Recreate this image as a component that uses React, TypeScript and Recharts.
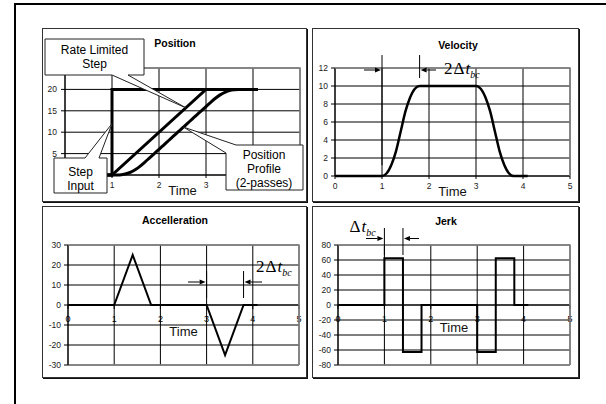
import React from 'react';
import { LineChart, Line, XAxis, YAxis, CartesianGrid, ReferenceLine } from 'recharts';

const FONT = '"Liberation Sans", Arial, Helvetica, sans-serif';
const SERIF = '"Liberation Serif", "Times New Roman", serif';

// shared time axis
const timeTicks = [0, 1, 2, 3, 4, 5];

// sample times for the smooth profiles
const profileTimes = [
  0, 1, 1.1, 1.2, 1.3, 1.4, 1.5, 1.6, 1.7, 1.8, 1.9, 2, 2.1, 2.2, 2.3, 2.4,
  2.5, 2.6, 2.7, 2.8, 2.9, 3, 3.1, 3.2, 3.3, 3.4, 3.5, 3.6, 3.7, 3.8, 4.1,
];

// position
const positionTicks = [0, 5, 10, 15, 20, 25];
const positionHiddenX = [0, 4, 5]; // sit under the callout boxes
const positionHiddenY = [0, 25];
const stepTimes = [0, 1, 1, 4.1];
const stepValues = [0, 0, 20, 20];
const rateTimes = [0, 1, 3, 4.1];
const rateValues = [0, 0, 20, 20];
const profileValues = [
  0, 0, 0.01, 0.08, 0.28, 0.67, 1.28, 2.08, 3.01, 4, 5, 6, 7, 8, 9, 10,
  11, 12, 13, 14, 15, 16, 16.99, 17.92, 18.72, 19.33, 19.72, 19.92, 19.99, 20, 20,
];

// velocity
const velocityTicks = [0, 2, 4, 6, 8, 10, 12];
const velocityValues = [
  0, 0, 0.3, 1.25, 2.8, 5, 7.2, 8.75, 9.7, 10, 10, 10, 10, 10, 10, 10,
  10, 10, 10, 10, 10, 10, 9.7, 8.75, 7.2, 5, 2.8, 1.25, 0.3, 0, 0,
];

// acceleration
const accelTicks = [-30, -20, -10, 0, 10, 20, 30];
const accelTimes = [0, 1, 1.4, 1.8, 3, 3.4, 3.8, 4.1];
const accelValues = [0, 0, 25, 0, 0, -25, 0, 0];

// jerk, each value held until the next time
const jerkTicks = [-80, -60, -40, -20, 0, 20, 40, 60, 80];
const jerkTimes = [0, 1, 1.4, 1.8, 3, 3.4, 3.8, 4.1];
const jerkValues = [0, 62.5, -62.5, 0, -62.5, 62.5, 0, 0];

const zip = (ts: number[], vs: number[]) => ts.map((t, i) => ({ t, v: vs[i] }));

type Frame = {
  left: number;
  top: number;
  width: number;
  height: number;
  plotLeft: number;
  plotTop: number;
  plotWidth: number;
  plotHeight: number;
  xAxisHeight: number;
  yDomain: [number, number];
};

const positionFrame: Frame = { left: 42, top: 28, width: 265, height: 174, plotLeft: 23, plotTop: 40, plotWidth: 235, plotHeight: 107, xAxisHeight: 22, yDomain: [0, 25] };
const velocityFrame: Frame = { left: 312, top: 28, width: 267, height: 174, plotLeft: 23, plotTop: 40, plotWidth: 235, plotHeight: 108, xAxisHeight: 22, yDomain: [0, 12] };
const accelFrame: Frame = { left: 42, top: 206, width: 265, height: 172, plotLeft: 26, plotTop: 39, plotWidth: 231, plotHeight: 120, xAxisHeight: 12, yDomain: [-30, 30] };
const jerkFrame: Frame = { left: 312, top: 206, width: 267, height: 172, plotLeft: 26, plotTop: 39, plotWidth: 232, plotHeight: 120, xAxisHeight: 12, yDomain: [-80, 80] };

const marginOf = (f: Frame) => ({
  top: f.plotTop,
  left: 0,
  right: f.width - f.plotLeft - f.plotWidth,
  bottom: f.height - f.plotTop - f.plotHeight - f.xAxisHeight,
});

// page coordinates of a data point, for the annotations drawn on top
const xOf = (f: Frame, t: number) => f.left + f.plotLeft + (t / 5) * f.plotWidth;
const yOf = (f: Frame, v: number) =>
  f.top + f.plotTop + ((f.yDomain[1] - v) / (f.yDomain[1] - f.yDomain[0])) * f.plotHeight;

const tickStyle = { fontSize: 8.5, fill: '#222', fontFamily: FONT };

// x labels for the plots whose time axis crosses at zero
function zeroTick(f: Frame) {
  return (props: any) => {
    const { x, y, payload } = props;
    const zeroY = y - (f.plotHeight * (0 - f.yDomain[0])) / (f.yDomain[1] - f.yDomain[0]);
    return (
      <g>
        <line x1={x} y1={zeroY} x2={x} y2={zeroY + 4} stroke="#000" />
        <text x={x} y={zeroY + 16.5} textAnchor="middle" fontSize={9} fill="#000" fontFamily={FONT}>
          {payload.value}
        </text>
      </g>
    );
  };
}

function Shell({ frame, children }: { frame: Frame; children: React.ReactNode }) {
  return (
    <div style={{ position: 'absolute', left: frame.left, top: frame.top, width: frame.width, height: frame.height }}>
      {children}
      <div
        style={{
          position: 'absolute',
          inset: 0,
          border: '1px solid #333',
          boxShadow: '1px 1px 0 #111',
          pointerEvents: 'none',
        }}
      />
    </div>
  );
}

function PositionChart() {
  const f = positionFrame;
  return (
    <Shell frame={f}>
      <LineChart width={f.width} height={f.height} margin={marginOf(f)}>
        <CartesianGrid stroke="#000" />
        <XAxis
          dataKey="t"
          type="number"
          domain={[0, 5]}
          ticks={timeTicks}
          interval={0}
          height={f.xAxisHeight}
          tick={tickStyle}
          tickFormatter={(t: number) => (positionHiddenX.includes(t) ? '' : String(t))}
          tickSize={3}
          tickMargin={4}
          stroke="#000"
          label={{ value: 'Time', position: 'insideBottom', offset: 2, fontSize: 13, fill: '#111', fontFamily: FONT }}
        />
        <YAxis
          type="number"
          domain={f.yDomain}
          ticks={positionTicks}
          interval={0}
          width={f.plotLeft}
          tick={tickStyle}
          tickFormatter={(v: number) => (positionHiddenY.includes(v) ? '' : String(v))}
          tickSize={4}
          tickMargin={4}
          stroke="#000"
        />
        <Line data={zip(stepTimes, stepValues)} dataKey="v" type="linear" stroke="#000" strokeWidth={3} dot={false} isAnimationActive={false} />
        <Line data={zip(rateTimes, rateValues)} dataKey="v" type="linear" stroke="#000" strokeWidth={3} dot={false} isAnimationActive={false} />
        <Line data={zip(profileTimes, profileValues)} dataKey="v" type="monotone" stroke="#000" strokeWidth={3} dot={false} isAnimationActive={false} />
      </LineChart>
    </Shell>
  );
}

function VelocityChart() {
  const f = velocityFrame;
  return (
    <Shell frame={f}>
      <LineChart width={f.width} height={f.height} margin={marginOf(f)}>
        <CartesianGrid stroke="#000" />
        <XAxis
          dataKey="t"
          type="number"
          domain={[0, 5]}
          ticks={timeTicks}
          interval={0}
          height={f.xAxisHeight}
          tick={tickStyle}
          tickSize={3}
          tickMargin={4}
          stroke="#000"
          label={{ value: 'Time', position: 'insideBottom', offset: 2, fontSize: 13, fill: '#111', fontFamily: FONT }}
        />
        <YAxis
          type="number"
          domain={f.yDomain}
          ticks={velocityTicks}
          interval={0}
          width={f.plotLeft}
          tick={tickStyle}
          tickSize={4}
          tickMargin={3}
          stroke="#000"
        />
        <Line data={zip(profileTimes, velocityValues)} dataKey="v" type="monotone" stroke="#000" strokeWidth={2.5} dot={false} isAnimationActive={false} />
      </LineChart>
    </Shell>
  );
}

function AccelChart() {
  const f = accelFrame;
  return (
    <Shell frame={f}>
      <LineChart width={f.width} height={f.height} margin={marginOf(f)}>
        <CartesianGrid stroke="#000" />
        <XAxis
          dataKey="t"
          type="number"
          domain={[0, 5]}
          ticks={timeTicks}
          interval={0}
          height={f.xAxisHeight}
          tick={zeroTick(f)}
          tickLine={false}
          tickSize={0}
          tickMargin={0}
          axisLine={{ stroke: '#888', strokeWidth: 1.5 }}
        />
        <YAxis
          type="number"
          domain={f.yDomain}
          ticks={accelTicks}
          interval={0}
          width={f.plotLeft}
          tick={tickStyle}
          tickSize={4}
          tickMargin={3}
          stroke="#000"
        />
        <ReferenceLine
          y={0}
          stroke="#000"
          label={{ value: 'Time', position: 'bottom', offset: 22, fontSize: 13, fill: '#111', fontFamily: FONT }}
        />
        <Line data={zip(accelTimes, accelValues)} dataKey="v" type="linear" stroke="#000" strokeWidth={2} dot={false} isAnimationActive={false} />
      </LineChart>
    </Shell>
  );
}

function JerkChart() {
  const f = jerkFrame;
  return (
    <Shell frame={f}>
      <LineChart width={f.width} height={f.height} margin={marginOf(f)}>
        <CartesianGrid stroke="#000" />
        <XAxis
          dataKey="t"
          type="number"
          domain={[0, 5]}
          ticks={timeTicks}
          interval={0}
          height={f.xAxisHeight}
          tick={zeroTick(f)}
          tickLine={false}
          tickSize={0}
          tickMargin={0}
          axisLine={{ stroke: '#888', strokeWidth: 1.5 }}
        />
        <YAxis
          type="number"
          domain={f.yDomain}
          ticks={jerkTicks}
          interval={0}
          width={f.plotLeft}
          tick={tickStyle}
          tickSize={4}
          tickMargin={3}
          stroke="#000"
        />
        <ReferenceLine
          y={0}
          stroke="#000"
          label={{ value: 'Time', position: 'bottom', offset: 17.5, fontSize: 13, fill: '#111', fontFamily: FONT }}
        />
        <Line data={zip(jerkTimes, jerkValues)} dataKey="v" type="stepAfter" stroke="#000" strokeWidth={2} dot={false} isAnimationActive={false} />
      </LineChart>
    </Shell>
  );
}

// horizontal arrow with its head at x2
function Arrow({ x1, x2, y }: { x1: number; x2: number; y: number }) {
  const dir = Math.sign(x2 - x1);
  const head = 6;
  return (
    <g>
      <line x1={x1} y1={y} x2={x2 - dir * head} y2={y} stroke="#000" strokeWidth={1} />
      <polygon points={`${x2},${y} ${x2 - dir * head},${y - 2.5} ${x2 - dir * head},${y + 2.5}`} fill="#000" />
    </g>
  );
}

function DeltaLabel({ x, y, two }: { x: number; y: number; two: boolean }) {
  return (
    <text x={x} y={y} fontFamily={SERIF} fontSize={17} fill="#000">
      {two ? '2' : ''}
      <tspan dx={two ? 1 : 0}>Δ</tspan>
      <tspan fontStyle="italic" dx={1}>t</tspan>
      <tspan fontStyle="italic" fontSize={10} dy={4}>bc</tspan>
    </text>
  );
}

function PlotBorder({ f }: { f: Frame }) {
  const l = f.left + f.plotLeft;
  const t = f.top + f.plotTop;
  const r = l + f.plotWidth;
  const b = t + f.plotHeight;
  return <polyline points={`${l},${t} ${r},${t} ${r},${b}`} stroke="#888" strokeWidth={1.5} fill="none" />;
}

function Overlay() {
  const p = positionFrame;
  const v = velocityFrame;
  const a = accelFrame;
  const j = jerkFrame;

  const rateTip = { x: xOf(p, 2.57), y: yOf(p, 15.7) };
  const profileTip = { x: xOf(p, 2.52), y: yOf(p, 11.2) };
  const stepTip = { x: xOf(p, 1), y: yOf(p, 12) };

  const titleStyle = { fontFamily: FONT, fontSize: 10.5, fontWeight: 'bold' as const, textAnchor: 'middle' as const };
  const calloutText = { fontFamily: FONT, fontSize: 12, textAnchor: 'middle' as const, fill: '#000' };

  return (
    <svg width={606} height={404} style={{ position: 'absolute', left: 0, top: 0, pointerEvents: 'none' }}>
      <PlotBorder f={p} />
      <PlotBorder f={v} />
      <PlotBorder f={a} />
      <PlotBorder f={j} />

      <text x={175} y={46.8} {...titleStyle}>Position</text>
      <text x={458} y={48.8} {...titleStyle}>Velocity</text>
      <text x={175} y={223.8} {...titleStyle}>Accelleration</text>
      <text x={446} y={224.5} {...titleStyle}>Jerk</text>

      {/* callouts on the position plot */}
      <path
        d={`M45,39 H144 V75 H128 L${rateTip.x},${rateTip.y} L112,75 H45 Z`}
        fill="#fff"
        stroke="#222"
        strokeWidth={1}
      />
      <text x={94.5} y={54} {...calloutText}>Rate Limited</text>
      <text x={94.5} y={68} {...calloutText}>Step</text>

      <path
        d={`M54,158 H85 L${stepTip.x},${stepTip.y} L99,158 H107 V193 H54 Z`}
        fill="#fff"
        stroke="#222"
        strokeWidth={1}
      />
      <text x={80.5} y={176} {...calloutText}>Step</text>
      <text x={80.5} y={190} {...calloutText}>Input</text>

      <path
        d={`M236,145 H303 V190 H226 V153 L${profileTip.x},${profileTip.y} Z`}
        fill="#fff"
        stroke="#222"
        strokeWidth={1}
      />
      <text x={264} y={159} {...calloutText}>Position</text>
      <text x={264} y={173} {...calloutText}>Profile</text>
      <text x={264} y={187} {...calloutText}>(2-passes)</text>

      {/* ramp width on the velocity plot */}
      <line x1={xOf(v, 1)} y1={55} x2={xOf(v, 1)} y2={yOf(v, 1.2)} stroke="#000" strokeWidth={1} />
      <line x1={xOf(v, 1.8)} y1={55} x2={xOf(v, 1.8)} y2={78} stroke="#000" strokeWidth={1} />
      <Arrow x1={364} x2={xOf(v, 1) - 1} y={70} />
      <Arrow x1={436} x2={xOf(v, 1.8) + 1} y={70} />
      <DeltaLabel x={444} y={74} two />

      {/* ramp width on the acceleration plot */}
      <line x1={xOf(a, 3)} y1={271} x2={xOf(a, 3)} y2={298} stroke="#000" strokeWidth={1} />
      <line x1={xOf(a, 3.8)} y1={271} x2={xOf(a, 3.8)} y2={298} stroke="#000" strokeWidth={1} />
      <Arrow x1={188} x2={xOf(a, 3) - 1} y={282} />
      <Arrow x1={262} x2={xOf(a, 3.8) + 1} y={282} />
      <DeltaLabel x={256} y={271.5} two />

      {/* single interval on the jerk plot */}
      <line x1={xOf(j, 1)} y1={228} x2={xOf(j, 1)} y2={255} stroke="#000" strokeWidth={1} />
      <line x1={xOf(j, 1.4)} y1={228} x2={xOf(j, 1.4)} y2={255} stroke="#000" strokeWidth={1} />
      <Arrow x1={366} x2={xOf(j, 1) - 1} y={238.5} />
      <Arrow x1={419} x2={xOf(j, 1.4) + 1} y={238.5} />
      <DeltaLabel x={349.5} y={231.5} two={false} />
    </svg>
  );
}

export default function App() {
  return (
    <div
      style={{
        position: 'absolute',
        left: 0,
        top: 0,
        width: 606,
        height: 404,
        overflow: 'hidden',
        background: '#fff',
        fontFamily: FONT,
      }}
    >
      <div
        style={{
          position: 'absolute',
          left: 14,
          top: 3,
          width: 700,
          height: 500,
          borderTop: '2px solid #000',
          borderLeft: '2px solid #000',
        }}
      />
      <PositionChart />
      <VelocityChart />
      <AccelChart />
      <JerkChart />
      <Overlay />
    </div>
  );
}
